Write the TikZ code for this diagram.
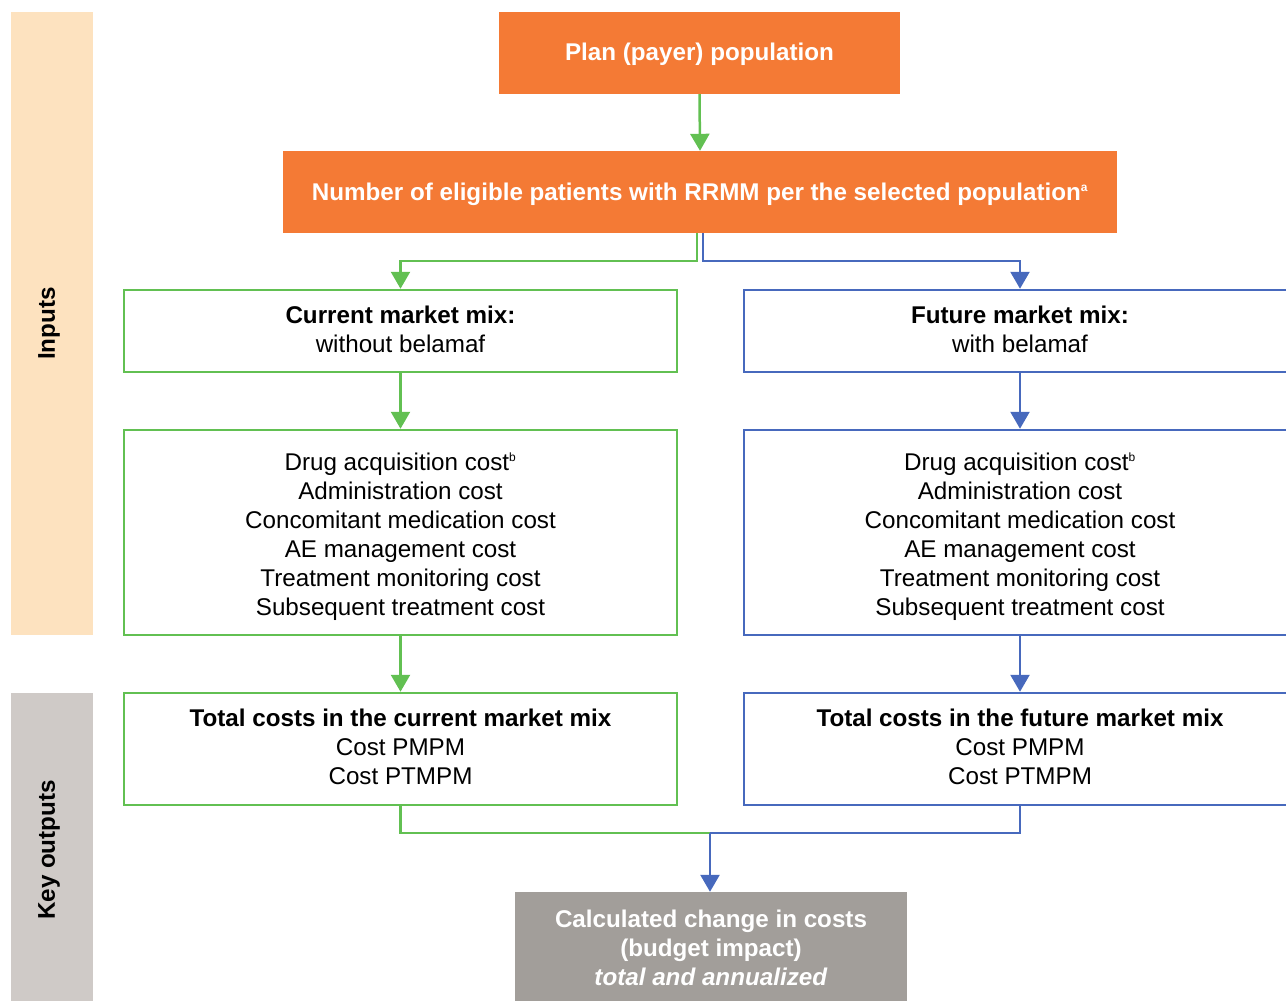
\documentclass[tikz,border=0pt]{standalone}
\usepackage{fontspec}
\setmainfont{Liberation Sans}
\usetikzlibrary{arrows.meta}
\definecolor{orng}{HTML}{F47A35}
\definecolor{grn}{HTML}{62C052}
\definecolor{blu}{HTML}{4769BD}
\definecolor{peach}{HTML}{FDE2BF}
\definecolor{bandgray}{HTML}{CFCAC7}
\definecolor{boxgray}{HTML}{A29E9A}
\newcommand{\supx}[1]{\textsuperscript{\fontsize{12}{12}\selectfont #1}}
\tikzset{
  txt/.style={font=\fontsize{24.2}{29}\selectfont, align=center, inner sep=0pt},
  wtxt/.style={txt, text=white, font=\bfseries\fontsize{24.2}{29}\selectfont},
  orangebox/.style={fill=orng, inner sep=0pt},
  graybox/.style={fill=boxgray, inner sep=0pt},
  gbox/.style={draw=grn, line width=2.5pt, inner sep=0pt},
  bbox/.style={draw=blu, line width=2.5pt, inner sep=0pt},
  gline/.style={draw=grn, line width=2.5pt},
  bline/.style={draw=blu, line width=2.5pt},
  garrow/.style={gline, -{Triangle[width=19pt,length=17pt]}},
  barrow/.style={bline, -{Triangle[width=19pt,length=17pt]}},
  bandlabel/.style={rotate=90, font=\bfseries\fontsize{24.2}{29}\selectfont, inner sep=0pt}
}
\begin{document}
\begin{tikzpicture}[x=1pt,y=-1pt]
\useasboundingbox (0,0) rectangle (1286,1001);
\clip (0,0) rectangle (1286,1001);
% bands
\fill[peach] (11,12) rectangle (93,635);
\fill[bandgray] (11,693) rectangle (93,1001);
\node[bandlabel] (inp) at (49,323.5) {Inputs};
\node[bandlabel] (kout) at (49,850) {Key outputs};
% top boxes
\node[orangebox, minimum width=401pt, minimum height=82pt] (plan) at (699.5,53) {};
\node[wtxt] (plant) at (699.5,54) {Plan (payer) population};
\node[orangebox, minimum width=834pt, minimum height=82pt] (num) at (700,192) {};
\node[wtxt] (numt) at (700,194) {Number of eligible patients with RRMM per the selected population\supx{a}};
% market mix
\node[gbox, minimum width=553pt, minimum height=82pt] (cur) at (400.5,331) {};
\node[txt] (curt) at (400.5,329) {\textbf{Current market mix:}\\without belamaf};
\node[bbox, minimum width=552pt, minimum height=82pt] (fut) at (1020,331) {};
\node[txt] (futt) at (1020,329) {\textbf{Future market mix:}\\with belamaf};
% costs
\node[gbox, minimum width=553pt, minimum height=205pt] (costc) at (400.5,532.5) {};
\node[txt] (costct) at (400.5,536.5) {Drug acquisition cost\supx{b}\\Administration cost\\Concomitant medication cost\\AE management cost\\Treatment monitoring cost\\Subsequent treatment cost};
\node[bbox, minimum width=552pt, minimum height=205pt] (costf) at (1020,532.5) {};
\node[txt] (costft) at (1020,536.5) {Drug acquisition cost\supx{b}\\Administration cost\\Concomitant medication cost\\AE management cost\\Treatment monitoring cost\\Subsequent treatment cost};
% totals
\node[gbox, minimum width=553pt, minimum height=112pt] (totc) at (400.5,749) {};
\node[txt] (totct) at (400.5,747) {\textbf{Total costs in the current market mix}\\Cost PMPM\\Cost PTMPM};
\node[bbox, minimum width=552pt, minimum height=112pt] (totf) at (1020,749) {};
\node[txt] (totft) at (1020,747) {\textbf{Total costs in the future market mix}\\Cost PMPM\\Cost PTMPM};
% result
\node[graybox, minimum width=392pt, minimum height=120pt] (calc) at (711,952) {};
\node[wtxt] (calct) at (711,948) {Calculated change in costs\\(budget impact)\\\textit{total and annualized}};
% connectors
\draw[garrow] (plan.south) -- (num.north);
\draw[garrow] ([xshift=-3pt]num.south) -- ++(0,28) -| (cur.north);
\draw[barrow] ([xshift=3pt]num.south) -- ++(0,28) -| (fut.north);
\draw[garrow] (cur.south) -- (costc.north);
\draw[barrow] (fut.south) -- (costf.north);
\draw[garrow] (costc.south) -- (totc.north);
\draw[barrow] (costf.south) -- (totf.north);
\coordinate (merge) at (710,833);
\draw[gline] (totc.south) |- (merge);
\draw[bline] (totf.south) |- (merge);
\draw[barrow] (merge) -- (merge |- calc.north);
\end{tikzpicture}
\end{document}
